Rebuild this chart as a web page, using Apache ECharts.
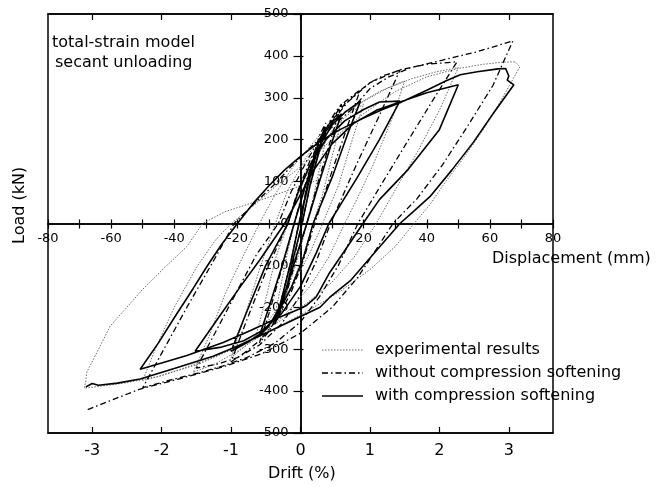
<!DOCTYPE html>
<html>
<head>
<meta charset="utf-8">
<script src="https://cdn.jsdelivr.net/npm/echarts@6/dist/echarts.min.js"></script>
<style>
  html, body { margin: 0; padding: 0; background: #fff; }
  #chart { width: 667px; height: 487px; }
</style>
</head>
<body>
<div id="chart"></div>
<script>
// Cyclic load–displacement response of the column: [displacement (mm), load (kN)]
const experimentalResults = [
  [0,0],[1,40],[2.5,90],[4,130],[6,170],[8,200],
  [6,130],[4,60],[2,0],
  [0,-60],[-2,-110],[-4,-155],[-6,-190],[-8,-215],
  [-6,-140],[-4,-65],[-2,0],
  [0,55],[3,120],[6,170],[9,210],[11,230],[13,245],
  [10,160],[7,70],[4,0],
  [1,-75],[-3,-150],[-7,-210],[-11,-250],[-14,-265],
  [-11,-180],[-8,-85],[-4,0],
  [-1,65],[3,135],[7,190],[12,240],[16,265],[20,285],
  [16,190],[12,90],[7,0],
  [3,-70],[-2,-140],[-7,-200],[-12,-250],[-17,-290],[-22,-320],
  [-18,-230],[-13,-110],[-8,0],
  [-4,80],[2,160],[8,220],[15,270],[22,300],[28,325],[33,340],
  [29,250],[23,140],[18,60],[14,0],
  [9,-80],[3,-150],[-4,-210],[-12,-265],[-20,-305],[-27,-335],[-34,-355],
  [-29,-270],[-24,-170],[-18,-75],[-13,0],
  [-8,70],[-2,140],[6,210],[15,270],[25,315],[35,345],[43,362],[50,372],
  [44,270],[37,170],[30,80],[24,0],
  [17,-80],[10,-140],[2,-190],[-8,-240],[-18,-285],[-28,-320],[-38,-348],[-45,-365],[-50,-375],
  [-46,-300],[-40,-200],[-33,-105],[-27,-40],[-22,0],
  [-15,42],[-8,88],[0,135],[10,200],[20,262],[30,315],[40,350],[50,370],[58,380],[64,385],[68,386],[69.5,374],
  [64,300],[58,225],[52,160],[46,100],[41,45],[36,0],
  [30,-55],[22,-110],[12,-165],[2,-210],[-8,-250],[-20,-295],[-32,-335],[-45,-365],[-55,-380],[-63,-388],[-68.5,-393],
  [-68,-375],[-67.7,-355],[-64,-300],[-60.3,-245],[-55,-200],[-50,-157],[-43,-105],[-36,-55],[-31,0],
  [-24,28],[-17,45],[-8,68],[0,90],[6,105]
];

const withoutSoftening = [
  [0,0],[1,50],[2.5,110],[4,160],[6,210],[8,240],
  [6,180],[3,90],[0.5,0],
  [-2,-80],[-4,-150],[-6,-205],[-8,-240],
  [-6,-180],[-3,-90],[-0.5,0],
  [1,50],[3,115],[6,190],[9,240],[11,265],[13,285],
  [10,210],[6,110],[2,0],
  [-1,-75],[-4,-155],[-7,-215],[-10,-258],[-13,-285],
  [-10,-215],[-6,-110],[-2,0],
  [0,55],[3,130],[6,195],[10,250],[14,290],[19,320],
  [15,235],[10,125],[4.5,0],
  [1,-85],[-3,-165],[-8,-235],[-13,-280],[-18,-310],[-22,-330],
  [-17,-230],[-11,-115],[-4,0],
  [-1,75],[3,150],[8,225],[14,285],[19,318],[22,336],[26,352],[31.5,366],
  [25,258],[18,145],[9.5,0],
  [5,-90],[0,-170],[-6,-240],[-13,-290],[-20,-320],[-26,-335],[-33,-345],
  [-27,-260],[-20,-160],[-14,-75],[-7,0],
  [-3,75],[2,150],[8,225],[15,290],[22,336],[31.5,367],[40,380],[49.6,386],
  [42,295],[34,197],[26,98],[18.2,0],
  [12,-100],[6,-175],[0,-235],[-8,-285],[-17,-320],[-24.5,-340],[-33,-358],[-42,-375],[-50,-392],
  [-44,-310],[-36,-200],[-28,-95],[-21,0],
  [-15,45],[-8,95],[-3,136],[3,180],[10,230],[17,278],[22,322],[28,350],[35,372],[45,390],[56,410],[67.3,436],
  [61,330],[53,233],[45,140],[37,60],[29.3,0],
  [25,-50],[18,-130],[10,-200],[0,-262],[-12,-310],[-24.5,-342],[-38,-370],[-50.8,-395],[-60,-422],[-67.7,-445]
];

const withSoftening = [
  [0,0],[1,45],[2.5,100],[4,150],[6,200],[8,230],
  [6,175],[3,90],[0.5,0],
  [-2,-75],[-4,-140],[-6,-195],[-8,-235],
  [-6,-180],[-3,-90],[-0.5,0],
  [1,45],[3,110],[5,165],[8,220],[10.5,245],[13,262],
  [10,195],[6,100],[2,0],
  [-1,-70],[-4,-145],[-7,-205],[-10,-245],[-13,-268],
  [-10,-200],[-6,-105],[-2,0],
  [0,50],[3,125],[6,185],[10,235],[14,265],[19,292],
  [15,215],[10,110],[4,0],
  [1,-80],[-3,-155],[-8,-225],[-13,-265],[-17,-285],[-22,-305],
  [-17,-210],[-11,-100],[-4,0],
  [-1,70],[3,140],[8,200],[14,245],[20,272],[25,290],[31.5,292],
  [25,200],[18,110],[9,0],
  [5,-70],[0,-150],[-6,-215],[-12,-255],[-18,-280],[-25,-295],[-33.4,-305],
  [-26,-225],[-19,-150],[-12.8,-86],[-5,0],
  [-1,55],[4,125],[10,190],[17,240],[24,270],[31.5,290],[40,312],[50,331],
  [44,224],[34,128],[25,57],[19.8,0],
  [14,-65],[9,-120],[5,-175],[2,-195],[0,-203],[-8,-228],[-16,-256],[-24.5,-284],[-36,-315],[-44,-333],[-50.8,-348],
  [-45,-285],[-40,-225],[-34,-155],[-29.6,-102],[-25,-50],[-20,0],
  [-15,48],[-10,90],[-5,128],[0,160],[6,195],[12.5,224],[20,252],[26,272],[31.5,288],[40,318],[46,340],[50.6,355],[56,362],[62.6,369],[65,370],[66,352],[65.5,342],[67.6,331],
  [61,262],[54.7,193],[48,128],[41,64],[36,30],[31.5,0],
  [24,-65],[16,-135],[9.3,-176],[6.2,-200],[0,-222],[-10.6,-260],[-20,-293],[-27.7,-317],[-40,-346],[-50.8,-371],[-58,-381],[-64,-386],[-66,-382],[-68,-390]
];

const seriesNames = ['experimental results', 'without compression softening', 'with compression softening'];
const displacementTicks = [-80, -60, -40, -20, 20, 40, 60, 80];
const driftTicks = [-3, -2, -1, 0, 1, 2, 3];
const mmPerPercentDrift = 22;

const FONT = 'DejaVu Sans';
const W = 667, H = 487;
const GRID = { left: 48, right: 114, top: 14, bottom: 54 };
const plotW = W - GRID.left - GRID.right;
const plotH = H - GRID.top - GRID.bottom;
// Both scales are symmetric about zero, so the crossing axes sit half-way across the frame.
const xCross = -plotH / 2;
const yCross = -plotW / 2;

const chart = echarts.init(document.getElementById('chart'), null, { renderer: 'canvas' });

const dispMin = -80, dispMax = 80;
const black = { color: '#000', width: 1.5 };
const tickStyle = { color: '#000', width: 1.2 };

const lineStyles = [
  { color: '#6a6a6a', width: 1, type: [1.5, 1.5] },
  { color: '#000', width: 1.3, type: [6, 3, 1.5, 3] },
  { color: '#000', width: 1.6, type: 'solid' }
];

const option = {
  backgroundColor: '#fff',
  animation: false,
  grid: {
    left: GRID.left, right: GRID.right, top: GRID.top, bottom: GRID.bottom,
    show: true, borderColor: '#000', borderWidth: 1.5, backgroundColor: 'transparent'
  },
  xAxis: [
    {
      type: 'value', min: dispMin, max: dispMax, interval: 10, position: 'bottom', offset: xCross,
      splitLine: { show: false },
      axisLine: { onZero: false, lineStyle: black },
      axisTick: { length: 5, lineStyle: tickStyle },
      axisLabel: {
        margin: 9, color: '#000', fontFamily: FONT, fontSize: 13,
        showMinLabel: true, showMaxLabel: true,
        formatter: v => displacementTicks.includes(v) ? String(v) : ''
      }
    },
    {
      type: 'value', min: dispMin, max: dispMax, interval: 10, position: 'top', offset: xCross,
      splitLine: { show: false },
      axisLine: { onZero: false, lineStyle: black },
      axisTick: { length: 4, lineStyle: tickStyle },
      axisLabel: { show: false }
    },
    {
      type: 'value', min: dispMin / mmPerPercentDrift, max: dispMax / mmPerPercentDrift, position: 'bottom',
      splitLine: { show: false },
      axisLine: { onZero: false, lineStyle: black },
      axisTick: { inside: true, length: 6, customValues: driftTicks, lineStyle: tickStyle },
      axisLabel: { customValues: driftTicks, margin: 10, color: '#000', fontFamily: FONT, fontSize: 16 }
    },
    {
      type: 'value', min: dispMin / mmPerPercentDrift, max: dispMax / mmPerPercentDrift, position: 'top',
      splitLine: { show: false },
      axisLine: { onZero: false, lineStyle: black },
      axisTick: { inside: true, length: 6, customValues: driftTicks, lineStyle: tickStyle },
      axisLabel: { show: false }
    }
  ],
  yAxis: [
    {
      type: 'value', min: -500, max: 500, interval: 100, position: 'left', offset: yCross,
      splitLine: { show: false },
      axisLine: { onZero: false, lineStyle: black },
      axisTick: { length: 7, lineStyle: tickStyle },
      axisLabel: { margin: 12, color: '#000', fontFamily: FONT, fontSize: 13, showMinLabel: true, showMaxLabel: true }
    },
    {
      type: 'value', min: -500, max: 500, interval: 100, position: 'right', offset: yCross,
      splitLine: { show: false },
      axisLine: { onZero: false, lineStyle: black },
      axisTick: { length: 3, lineStyle: tickStyle },
      axisLabel: { show: false }
    }
  ],
  series: [
    { name: seriesNames[0], type: 'line', xAxisIndex: 0, yAxisIndex: 0, data: experimentalResults,
      symbol: 'none', z: 2, lineStyle: lineStyles[0], itemStyle: { color: lineStyles[0].color } },
    { name: seriesNames[1], type: 'line', xAxisIndex: 0, yAxisIndex: 0, data: withoutSoftening,
      symbol: 'none', z: 3, lineStyle: lineStyles[1], itemStyle: { color: '#000' } },
    { name: seriesNames[2], type: 'line', xAxisIndex: 0, yAxisIndex: 0, data: withSoftening,
      symbol: 'none', z: 4, lineStyle: lineStyles[2], itemStyle: { color: '#000' } }
  ]
};

// Key: a line sample for each series followed by its name
const legendLeft = 322, legendTop = 350, legendRow = 23;
const legendItems = [];
seriesNames.forEach((name, i) => {
  const y = legendTop + i * legendRow;
  const ls = lineStyles[i];
  legendItems.push({
    type: 'line', shape: { x1: legendLeft, y1: y, x2: legendLeft + 41, y2: y },
    style: { stroke: ls.color, lineWidth: ls.width, lineDash: Array.isArray(ls.type) ? ls.type : null }
  });
  legendItems.push({
    type: 'text', x: legendLeft + 53, y: y,
    style: { text: name, fill: '#000', font: '16px "DejaVu Sans"', textVerticalAlign: 'middle' }
  });
});

option.graphic = [
  { type: 'text', left: 52, top: 35, style: { text: 'total-strain model', fill: '#000', font: '16px "DejaVu Sans"' } },
  { type: 'text', left: 55, top: 55, style: { text: 'secant unloading', fill: '#000', font: '16px "DejaVu Sans"' } },
  { type: 'text', left: 492, top: 251, style: { text: 'Displacement (mm)', fill: '#000', font: '16px "DejaVu Sans"' } },
  { type: 'text', left: 268, top: 466, style: { text: 'Drift (%)', fill: '#000', font: '16px "DejaVu Sans"' } },
  { type: 'text', x: 12, y: 244, rotation: Math.PI / 2, style: { text: 'Load (kN)', fill: '#000', font: '16px "DejaVu Sans"' } }
].concat(legendItems);

chart.setOption(option);
</script>
</body>
</html>
